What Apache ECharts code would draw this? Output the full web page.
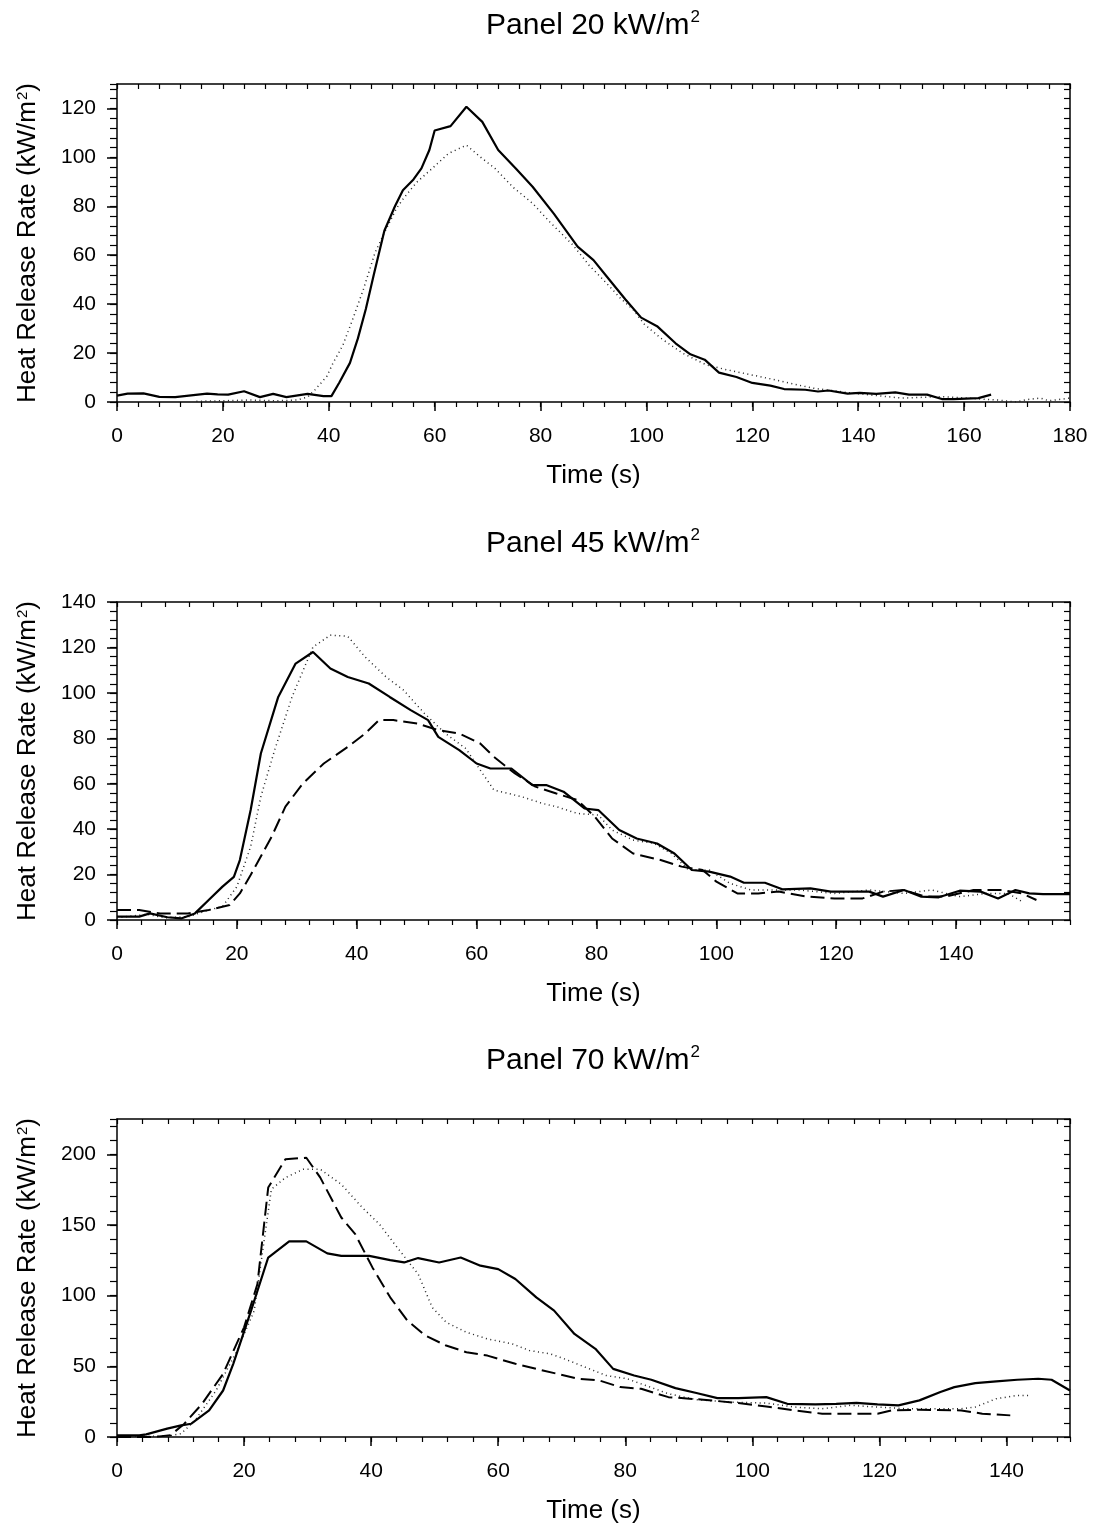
<!DOCTYPE html>
<html>
<head>
<meta charset="utf-8">
<script src="https://cdn.jsdelivr.net/npm/echarts@6/dist/echarts.min.js"></script>
<style>
html,body{margin:0;padding:0;background:#fff;}
#chart{width:1094px;height:1530px;}
</style>
</head>
<body>
<div id="chart"></div>
<script>
// ---------- DATA ----------
const panelTitles = ['Panel 20 kW/m{s|2}', 'Panel 45 kW/m{s|2}', 'Panel 70 kW/m{s|2}'];
const xAxisName = 'Time (s)';
const yAxisName = 'Heat Release Rate (kW/m{s|2})';
const xMax = [180, 159, 150];
const yMax = [130, 140, 225];
const xMajor = [20, 20, 20];
const xMinor = [4, 4, 4];
const yMajor = [20, 20, 50];
const yMinor = [4, 4, 10];

// Panel 20 kW/m2
const p1Solid = [[0,2.6],[2,3.4],[5,3.5],[8,2.1],[11,2],[14,2.7],[17,3.4],[19,3.1],[21,3],[24,4.4],[27,2],[29.5,3.3],[32,2],[36,3.3],[39,2.4],[40.5,2.4],[42,8],[44,16],[45.5,26],[47,38],[48.5,52],[50.5,70],[52.5,80],[54,86.6],[56,91],[57.5,95.5],[59,103],[60,111],[63,112.8],[66,120.7],[69,114.5],[72,103],[75.5,95],[78.5,88],[82.5,77],[87,63.5],[90,58],[93,50],[96,42],[99,34.5],[102,31],[105.5,24],[108.3,19.5],[111,17.3],[113.7,12],[117,10.2],[120,7.8],[123.4,6.7],[126,5.3],[130,5],[132.4,4.3],[134.4,4.7],[138,3.4],[140.3,3.7],[143.4,3.3],[147,3.9],[149.6,3],[153,3],[155.8,1.2],[158,1.2],[162.7,1.6],[165.1,3]];
const p1Dotted = [[15,0.3],[20,0.5],[25,0.8],[30,0.5],[34,0.8],[36,2],[37.4,5],[39.6,10.4],[40.8,15.9],[42.7,23.4],[44.6,34.3],[46.5,45.8],[48.7,60.8],[50.3,68.3],[52.8,79.2],[54.1,83.2],[56.6,89.8],[60.1,96.6],[62.6,101.6],[66,105],[68.6,100.2],[71.4,95.5],[74.8,87.8],[78.5,81.2],[81.7,73.7],[86.1,64.2],[89.2,55.8],[91.7,50.3],[95.1,42.4],[97.5,37.7],[99.6,31.8],[102.7,26.1],[106.8,20],[111.3,15.2],[115.1,13.2],[122.7,9.8],[131.3,5.7],[138.6,3.7],[148.2,1.6],[155.8,2.2],[160.5,1.6],[166.9,0.7],[169.6,0],[172,1],[174.4,1.6],[176,0.5],[180,1.6]];

// Panel 45 kW/m2
const p2Solid = [[0,1.5],[3.7,1.5],[5.5,2.9],[8.4,1.2],[10.7,0.7],[13,2.9],[15.3,8.8],[17.6,14.7],[19.5,19],[20.5,26.4],[22.3,48.4],[24,73.3],[26.9,98.2],[29.8,112.9],[32.7,118],[35.6,110.7],[38.5,107],[42,104.1],[45.5,98.2],[49,92.4],[51.9,88],[53.6,80.6],[57.1,74.8],[60,68.9],[62.3,66.7],[65.8,66.7],[69.3,59.4],[71.6,59.4],[74.5,56.5],[78,49.1],[80.3,48.4],[83.8,39.6],[86.7,35.9],[90.1,33.7],[93,29.3],[95.9,22],[98.8,21.3],[102.3,19.1],[104.6,16.4],[108.1,16.4],[111,13.5],[115.7,13.9],[119.1,12.5],[125.5,12.5],[127.8,10.3],[131.3,13.2],[134.2,10.3],[137.1,10],[140.6,12.9],[144.1,12.5],[147,9.5],[149.9,13.2],[152.2,11.7],[154.5,11.4],[159,11.4]];
const p2Dotted = [[0,1],[5,2.5],[8,1],[12,1.5],[15.3,4.4],[17.6,5.9],[20,14.7],[22.3,32.3],[24,54.3],[26.3,74.8],[29.2,98.2],[32.7,120.2],[35.6,125.4],[38.5,124.9],[41.4,115.8],[44.9,107],[47.8,101.2],[51.3,90.9],[54.8,82.1],[58.2,75.5],[60.6,66],[62.9,57.2],[67.5,54.3],[71,51.3],[73.3,49.9],[76.8,46.9],[80.3,46.2],[82.6,39.6],[86.1,35.2],[89.6,33.7],[92.5,29.3],[95.4,22],[98.8,22],[102.3,16.1],[105.8,13.2],[113.9,13.2],[119.7,11.7],[125.5,13.2],[131.3,11.7],[135.9,13.2],[140.6,10.3],[145.2,11.7],[148.7,11.7],[151,8.1]];
const p2Dashed = [[0,4.4],[3.7,4.4],[7.2,2.9],[11.8,2.9],[15.3,4.4],[18.8,6.6],[20.5,11.7],[22.3,19.8],[25.8,36.7],[28.1,49.9],[31,60.1],[34.5,68.9],[38.5,76.2],[41.4,82.1],[43.7,88],[46.1,88],[50.1,86.5],[53.6,83.6],[57.1,82.1],[60.6,77.7],[62.9,71.8],[66.4,64.5],[69.8,58.7],[73.3,55.7],[76.8,52.8],[79.7,45.5],[82.6,35.9],[86.1,29.3],[90.7,26.4],[94.2,23.5],[97.7,22],[100,16.9],[103.5,11.7],[107,11.7],[110.4,12.5],[115.1,10.3],[119.7,9.5],[124.4,9.5],[127.8,12.5],[131.3,13.2],[134.8,10.3],[138.3,10.3],[142.9,13.2],[147.6,13.2],[151,11.7],[153.4,8.8]];

// Panel 70 kW/m2
const p3Solid = [[0,1.2],[3.5,1.2],[4.6,1.9],[7.9,5.9],[10.1,8.2],[11.7,9.4],[14.5,18.8],[16.7,32.9],[18.3,51.8],[21.1,89.4],[23.8,127],[27.1,138.4],[29.8,138.4],[33.1,129.9],[35.3,128.2],[39.7,128.2],[43,125.2],[45.2,123.5],[47.4,126.6],[50.7,123.5],[54.1,127],[57.2,121.2],[60,118.8],[62.7,111.8],[66,98.8],[68.8,89.4],[72,72.9],[75.3,62.4],[78.1,48.2],[81.4,43.5],[84.1,40.5],[87.9,34.6],[91.2,31.1],[94.5,27.5],[97.8,27.5],[102.2,28.2],[105.5,23.5],[109.9,23.1],[113.2,23.5],[116.4,24.2],[119.7,23.1],[123,22.4],[126.3,25.9],[129.6,31.8],[131.8,35.3],[135.1,38.1],[138.4,39.3],[141.7,40.5],[145,41.2],[147.1,40.5],[150,32.9]];
const p3Dotted = [[0,0.5],[7.9,0.5],[10.1,2.4],[12.3,11.8],[15.6,32.9],[18.9,61.2],[21.6,89.4],[24.3,175.3],[26.5,183.5],[29.3,189.4],[32,189.4],[35.3,178.8],[38.6,162.4],[41.3,150.6],[44.1,134.1],[47.4,115.3],[49.6,91.8],[51.8,81.2],[55,74.1],[58.3,69.4],[62.2,65.9],[64.9,61.2],[68.2,58.8],[70.4,55.3],[73.7,49.4],[77,43.5],[80.3,41.2],[82.5,37.6],[86.8,30.6],[91.2,26.4],[96.7,24.7],[102.2,24],[106.6,21.2],[111,20],[115.4,22.4],[119.7,21.2],[124.1,20],[128.5,20],[132.9,20],[135.1,21.2],[138.4,27.1],[141.7,29.4],[143.9,29.4]];
const p3Dashed = [[0,0],[5.7,0],[8.4,1.2],[10.6,9.4],[13.4,23.5],[16.7,44.7],[20,77.6],[22.1,108.2],[23.8,176.5],[26.5,196.5],[29.8,197.6],[32,183.5],[35.3,155.3],[37.5,143.5],[40.2,120],[43,98.8],[45.7,82.4],[48.5,71.8],[51.8,64.7],[55,60],[58.3,57.6],[62.7,51.8],[66,48.2],[69.3,44.7],[72.6,41.2],[75.9,40],[79.2,35.3],[82.5,34.1],[86.8,28.2],[92.3,26.4],[97.8,24],[102.2,21.6],[106.6,18.8],[111,16.5],[115.4,16.5],[119.7,16.5],[121.9,18.8],[126.3,19.3],[132.9,18.8],[136.2,16.5],[140.6,15.3]];

const panelSeries = [
  [{d:p1Solid, k:'solid'}, {d:p1Dotted, k:'dotted'}],
  [{d:p2Solid, k:'solid'}, {d:p2Dotted, k:'dotted'}, {d:p2Dashed, k:'dashed'}],
  [{d:p3Solid, k:'solid'}, {d:p3Dotted, k:'dotted'}, {d:p3Dashed, k:'dashed'}]
];

// ---------- LAYOUT / STYLE ----------
const FONT = '"Liberation Sans", Arial, sans-serif';
const gridTops = [84, 602, 1119];
const gridH = 318;
const plotCenterX = 593;
const BLACK = '#000';
const lineStyles = {
  solid:  {color: BLACK, width: 2.2, type: 'solid'},
  dotted: {color: '#222', width: 1.5, type: [1, 3.5]},
  dashed: {color: BLACK, width: 2, type: [14, 6]}
};
const titleSup = {s: {fontSize: 17, verticalAlign: 'top', lineHeight: 17, fontFamily: FONT, fill: BLACK, color: BLACK, padding: [0,0,10,1]}};
const nameSup = {s: {fontSize: 15, verticalAlign: 'top', lineHeight: 15, fontFamily: FONT, color: BLACK, padding: [0,0,9,1]}};

const grids = [], xAxes = [], yAxes = [], graphics = [], series = [];
for (let i = 0; i < 3; i++) {
  grids.push({left: 117, right: 24, top: gridTops[i], height: gridH, containLabel: false});
  graphics.push({
    type: 'text', x: plotCenterX, y: gridTops[i] - 58, silent: true,
    style: {text: panelTitles[i], fontSize: 30, fontFamily: FONT, fill: BLACK, align: 'center', verticalAlign: 'middle', lineHeight: 34, rich: titleSup}
  });
  const axLine = {show: true, onZero: false, lineStyle: {color: BLACK, width: 1.5}};
  // main bottom axis
  xAxes.push({
    gridIndex: i, type: 'value', position: 'bottom', min: 0, max: xMax[i], interval: xMajor[i],
    axisLine: axLine, axisTick: {show: true, inside: false, length: 9, lineStyle: {color: BLACK, width: 1.5}},
    axisLabel: {margin: 24, fontSize: 21, color: BLACK, fontFamily: FONT, showMaxLabel: xMax[i] % xMajor[i] === 0, showMinLabel: true},
    splitLine: {show: false},
    name: xAxisName, nameLocation: 'middle', nameGap: 61,
    nameTextStyle: {fontSize: 26, color: BLACK, fontFamily: FONT}
  });
  // minor bottom ticks
  xAxes.push({
    gridIndex: i, type: 'value', position: 'bottom', min: 0, max: xMax[i], interval: xMinor[i],
    axisLine: {show: false, onZero: false}, axisTick: {show: true, length: 5, lineStyle: {color: BLACK, width: 1.2}},
    axisLabel: {show: false}, splitLine: {show: false}
  });
  // top frame with inward ticks
  xAxes.push({
    gridIndex: i, type: 'value', position: 'top', min: 0, max: xMax[i], interval: xMinor[i],
    axisLine: axLine, axisTick: {show: true, inside: true, length: 5, lineStyle: {color: BLACK, width: 1.2}},
    axisLabel: {show: false}, splitLine: {show: false}
  });
  // main left axis
  yAxes.push({
    gridIndex: i, type: 'value', position: 'left', min: 0, max: yMax[i], interval: yMajor[i],
    axisLine: axLine, axisTick: {show: true, inside: false, length: 10, lineStyle: {color: BLACK, width: 1.5}},
    axisLabel: {margin: 21, fontSize: 21, color: BLACK, fontFamily: FONT, showMaxLabel: yMax[i] % yMajor[i] === 0},
    splitLine: {show: false},
    name: yAxisName, nameLocation: 'middle', nameGap: 76,
    nameTextStyle: {fontSize: 26, color: BLACK, fontFamily: FONT, rich: nameSup}
  });
  // minor left ticks
  yAxes.push({
    gridIndex: i, type: 'value', position: 'left', min: 0, max: yMax[i], interval: yMinor[i],
    axisLine: {show: false, onZero: false}, axisTick: {show: true, length: 7, lineStyle: {color: BLACK, width: 1.2}},
    axisLabel: {show: false}, splitLine: {show: false}
  });
  // right frame with inward ticks
  yAxes.push({
    gridIndex: i, type: 'value', position: 'right', min: 0, max: yMax[i], interval: yMinor[i],
    axisLine: axLine, axisTick: {show: true, inside: true, length: 6, lineStyle: {color: BLACK, width: 1.2}},
    axisLabel: {show: false}, splitLine: {show: false}
  });
  panelSeries[i].forEach(s => {
    series.push({
      type: 'line', xAxisIndex: i * 3, yAxisIndex: i * 3, data: s.d,
      showSymbol: false, symbol: 'none', smooth: false, animation: false,
      lineStyle: lineStyles[s.k], z: s.k === 'solid' ? 3 : 2
    });
  });
}

const chart = echarts.init(document.getElementById('chart'), null, {renderer: 'canvas'});
chart.setOption({
  backgroundColor: '#fff',
  animation: false,
  graphic: graphics,
  grid: grids,
  xAxis: xAxes,
  yAxis: yAxes,
  series: series
});
</script>
</body>
</html>
